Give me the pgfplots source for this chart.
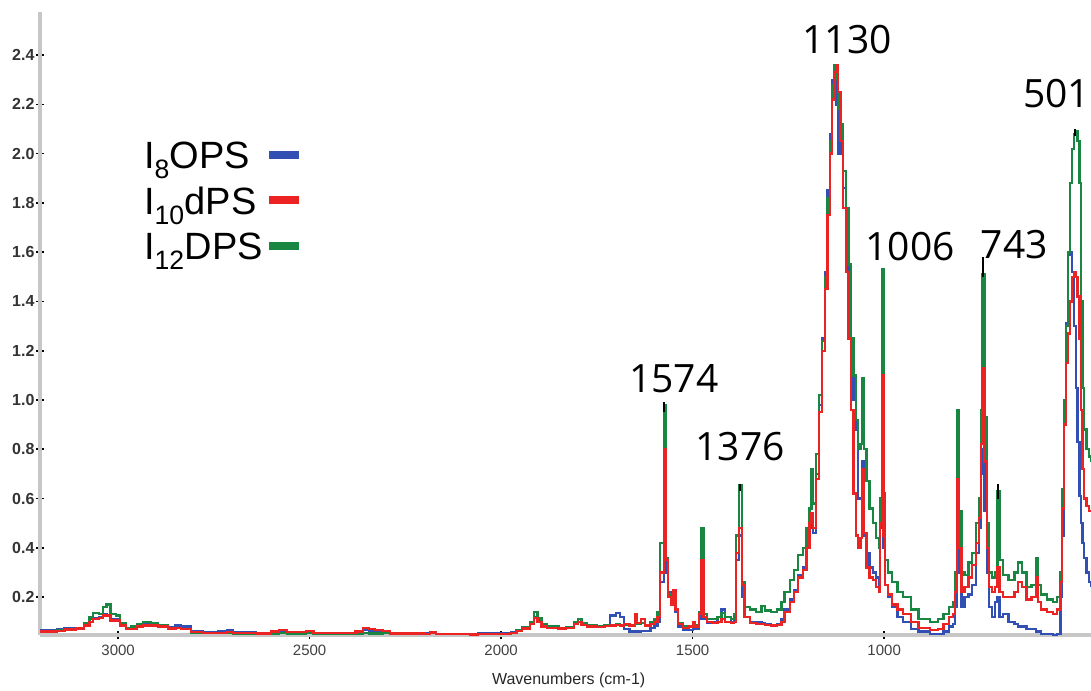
\documentclass[border=0pt]{standalone}
\usepackage{fontspec}
\setmainfont{Liberation Sans}
\newfontfamily\peakfont{Open Sans}
\usepackage{pgfplots}
\usepackage{pgfplotstable}
\pgfplotsset{compat=1.18}
\definecolor{cblue}{RGB}{50,80,180}
\definecolor{cred}{RGB}{235,35,35}
\definecolor{cgreen}{RGB}{25,135,65}
\pgfplotstableread{
wn b r g
3204 0.065 0.060 0.062
3160 0.068 0.063 0.065
3140 0.072 0.068 0.070
3110 0.075 0.072 0.075
3090 0.090 0.085 0.095
3075 0.110 0.100 0.120
3065 0.115 0.110 0.135
3050 0.120 0.115 0.130
3040 0.130 0.125 0.160
3030 0.125 0.125 0.170
3020 0.110 0.105 0.130
3005 0.110 0.105 0.125
2995 0.090 0.085 0.095
2980 0.075 0.070 0.075
2965 0.075 0.070 0.080
2950 0.085 0.080 0.090
2935 0.090 0.085 0.100
2915 0.085 0.085 0.095
2895 0.085 0.080 0.085
2870 0.078 0.072 0.075
2850 0.085 0.075 0.075
2835 0.080 0.070 0.070
2810 0.060 0.058 0.055
2780 0.058 0.055 0.055
2740 0.060 0.055 0.055
2715 0.065 0.058 0.055
2700 0.058 0.055 0.052
2640 0.055 0.052 0.050
2600 0.055 0.060 0.052
2580 0.058 0.065 0.055
2560 0.055 0.058 0.050
2510 0.058 0.062 0.055
2490 0.055 0.055 0.052
2420 0.055 0.053 0.050
2380 0.058 0.060 0.050
2360 0.065 0.075 0.055
2345 0.062 0.070 0.052
2330 0.060 0.065 0.052
2310 0.058 0.062 0.055
2290 0.052 0.052 0.050
2200 0.052 0.050 0.050
2185 0.055 0.056 0.055
2170 0.050 0.050 0.050
2080 0.050 0.048 0.048
2060 0.055 0.050 0.050
2000 0.055 0.050 0.050
1975 0.058 0.055 0.055
1960 0.065 0.062 0.065
1945 0.075 0.072 0.078
1925 0.090 0.090 0.100
1915 0.120 0.115 0.140
1905 0.105 0.100 0.115
1895 0.085 0.080 0.090
1880 0.078 0.075 0.080
1850 0.075 0.072 0.075
1830 0.078 0.075 0.078
1810 0.090 0.090 0.100
1800 0.100 0.098 0.110
1790 0.090 0.088 0.095
1775 0.082 0.080 0.085
1750 0.080 0.078 0.080
1730 0.085 0.082 0.085
1715 0.125 0.085 0.088
1700 0.135 0.088 0.090
1690 0.120 0.085 0.088
1680 0.070 0.090 0.088
1665 0.060 0.085 0.085
1650 0.060 0.130 0.095
1645 0.060 0.095 0.090
1635 0.062 0.110 0.095
1625 0.062 0.085 0.085
1610 0.075 0.090 0.100
1600 0.085 0.100 0.110
1592 0.100 0.120 0.140
1585 0.260 0.300 0.420
1575 0.750 0.800 0.980
1570 0.300 0.350 0.360
1564 0.220 0.200 0.210
1557 0.180 0.170 0.175
1550 0.200 0.230 0.220
1545 0.140 0.150 0.150
1538 0.080 0.090 0.095
1525 0.065 0.075 0.080
1510 0.065 0.080 0.080
1500 0.070 0.100 0.085
1494 0.070 0.080 0.085
1484 0.110 0.130 0.140
1478 0.230 0.350 0.480
1472 0.110 0.120 0.130
1462 0.095 0.100 0.110
1450 0.100 0.095 0.110
1435 0.120 0.100 0.120
1425 0.150 0.110 0.135
1415 0.120 0.100 0.120
1400 0.100 0.095 0.110
1392 0.110 0.100 0.130
1386 0.350 0.380 0.450
1379 0.450 0.480 0.655
1372 0.200 0.250 0.260
1365 0.120 0.120 0.160
1350 0.100 0.095 0.150
1335 0.100 0.090 0.140
1320 0.095 0.090 0.165
1312 0.090 0.088 0.145
1295 0.088 0.085 0.140
1280 0.090 0.088 0.150
1268 0.110 0.100 0.180
1260 0.150 0.140 0.220
1245 0.190 0.180 0.270
1235 0.230 0.220 0.310
1225 0.290 0.280 0.370
1212 0.320 0.310 0.400
1203 0.420 0.400 0.480
1195 0.480 0.500 0.560
1190 0.500 0.540 0.720
1185 0.460 0.480 0.580
1178 0.700 0.680 0.780
1170 0.980 0.950 1.020
1162 1.250 1.200 1.240
1155 1.520 1.450 1.500
1148 1.850 1.750 1.820
1142 2.080 2.000 2.050
1136 2.300 2.220 2.280
1130 2.350 2.330 2.360
1125 2.200 2.360 2.300
1120 2.000 2.250 2.180
1114 2.060 2.050 2.120
1108 1.860 1.780 1.930
1100 1.620 1.520 1.780
1093 1.400 1.250 1.550
1086 1.200 0.960 1.250
1080 1.000 0.620 1.100
1074 0.880 0.450 0.920
1068 0.600 0.400 0.800
1062 0.600 0.440 0.820
1058 0.750 0.720 1.090
1053 0.450 0.460 0.800
1046 0.380 0.320 0.670
1038 0.320 0.280 0.560
1030 0.300 0.270 0.500
1022 0.280 0.240 0.440
1014 0.250 0.220 0.400
1010 0.480 0.500 0.600
1006 0.950 1.100 1.530
1002 0.400 0.450 0.620
997 0.250 0.250 0.350
990 0.200 0.210 0.300
980 0.160 0.170 0.260
965 0.120 0.150 0.220
950 0.100 0.130 0.200
930 0.070 0.100 0.150
910 0.060 0.075 0.110
880 0.050 0.065 0.100
860 0.050 0.070 0.110
845 0.060 0.090 0.130
830 0.080 0.120 0.160
820 0.090 0.130 0.180
815 0.160 0.220 0.300
810 0.600 0.680 0.960
804 0.300 0.400 0.550
798 0.160 0.220 0.300
790 0.200 0.240 0.290
780 0.210 0.280 0.340
770 0.250 0.330 0.380
760 0.380 0.420 0.500
752 0.480 0.520 0.600
748 0.700 0.820 0.960
743 0.800 1.130 1.510
738 0.550 0.750 0.930
732 0.300 0.400 0.500
726 0.160 0.240 0.300
718 0.120 0.220 0.280
710 0.180 0.240 0.300
704 0.200 0.320 0.630
699 0.120 0.220 0.350
690 0.130 0.200 0.290
675 0.100 0.200 0.270
660 0.090 0.220 0.300
650 0.080 0.260 0.340
640 0.080 0.240 0.300
628 0.070 0.190 0.240
615 0.070 0.200 0.250
604 0.060 0.280 0.360
598 0.060 0.180 0.250
590 0.050 0.150 0.210
575 0.050 0.140 0.190
560 0.045 0.130 0.180
548 0.050 0.150 0.200
540 0.200 0.260 0.300
535 0.450 0.560 0.640
530 1.000 0.900 1.000
525 1.310 1.150 1.300
520 1.590 1.270 1.600
515 1.600 1.400 1.880
510 1.520 1.500 2.020
505 1.300 1.520 2.080
500 1.050 1.500 2.090
495 0.830 1.420 2.050
490 0.610 1.250 1.880
486 0.500 0.960 1.400
482 0.420 0.720 1.050
478 0.360 0.600 0.880
472 0.300 0.570 0.800
465 0.260 0.550 0.770
460 0.240 0.550 0.750
}\spectra
\begin{document}
\begin{tikzpicture}
\begin{axis}[
  name=ax,
  scale only axis, width=1051pt, height=623pt,
  x dir=reverse, xmin=460, xmax=3204, ymin=0.046, ymax=2.575,
  axis x line=bottom, axis y line=left,
  axis line style={draw=black!22, line width=3.5pt, -},
  xtick={1000,1500,2000,2500,3000},
  xticklabels={1000,1500,2000,2500,3000},
  minor x tick num=4,
  ytick={0.2,0.4,0.6,0.8,1.0,1.2,1.4,1.6,1.8,2.0,2.2,2.4},
  yticklabels={0.2,0.4,0.6,0.8,1.0,1.2,1.4,1.6,1.8,2.0,2.2,2.4},
  minor y tick num=9,
  tick align=center,
  major tick length=8pt, minor tick length=2.5pt,
  every major tick/.style={black, line width=1.6pt},
  every minor tick/.style={black, line width=1.6pt},
  yticklabel style={font=\fontsize{16}{16}\selectfont\bfseries, text=black!80, xshift=2pt},
  xticklabel style={font=\fontsize{15}{15}\selectfont, text=black!75, yshift=-2pt},
  xlabel={Wavenumbers (cm-1)},
  xlabel style={font=\fontsize{16}{16}\selectfont, text=black!85, at={(rel axis cs:0.503,0)}, anchor=center, yshift=-45pt},
  clip=true,
  legend plot pos=right,
  legend cell align=left,
  legend style={at={(rel axis cs:0.097,0.795)}, anchor=north west, draw=none, fill=none,
    font=\fontsize{38}{44}\selectfont, inner sep=0pt, row sep=13pt,
    /tikz/every even column/.append style={column sep=8pt}},
  legend image code/.code={\draw[#1, line width=8pt] (0pt,1pt) -- (30pt,1pt);},
]
\addplot[cblue, const plot, line width=2.3pt, forget plot] table[x=wn, y=b] {\spectra};
\addplot[cgreen, const plot, line width=2.3pt, forget plot] table[x=wn, y=g] {\spectra};
\addplot[cred, const plot, line width=2.3pt, forget plot] table[x=wn, y=r] {\spectra};
\addplot[black, line width=2pt, forget plot] coordinates {(1576,0.95) (1576,0.99)};
\addplot[black, line width=2pt, forget plot] coordinates {(1377,0.63) (1377,0.66)};
\addplot[black, line width=2pt, forget plot] coordinates {(742,1.50) (742,1.58)};
\addplot[black, line width=2pt, forget plot] coordinates {(703,0.60) (703,0.66)};
\addplot[black, line width=2pt, forget plot] coordinates {(501,2.07) (501,2.10)};
\addlegendimage{cblue}
\addlegendentry{I\textsubscript{8}OPS}
\addlegendimage{cred}
\addlegendentry{I\textsubscript{10}dPS}
\addlegendimage{cgreen}
\addlegendentry{I\textsubscript{12}DPS}
\node[font=\peakfont\fontsize{39}{39}\selectfont, anchor=base] at (axis cs:1097,2.408) {1130};
\node[font=\peakfont\fontsize{39}{39}\selectfont, anchor=base] at (axis cs:550,2.189) {501};
\node[font=\peakfont\fontsize{39}{39}\selectfont, anchor=base] at (axis cs:932,1.568) {1006};
\node[font=\peakfont\fontsize{39}{39}\selectfont, anchor=base] at (axis cs:660,1.576) {743};
\node[font=\peakfont\fontsize{39}{39}\selectfont, anchor=base] at (axis cs:1549,1.032) {1574};
\node[font=\peakfont\fontsize{39}{39}\selectfont, anchor=base] at (axis cs:1376,0.756) {1376};
\end{axis}
\pgfresetboundingbox
\path ([shift={(-40pt,-55pt)}]ax.south west) rectangle ([shift={(0pt,12pt)}]ax.north east);
\end{tikzpicture}
\end{document}
